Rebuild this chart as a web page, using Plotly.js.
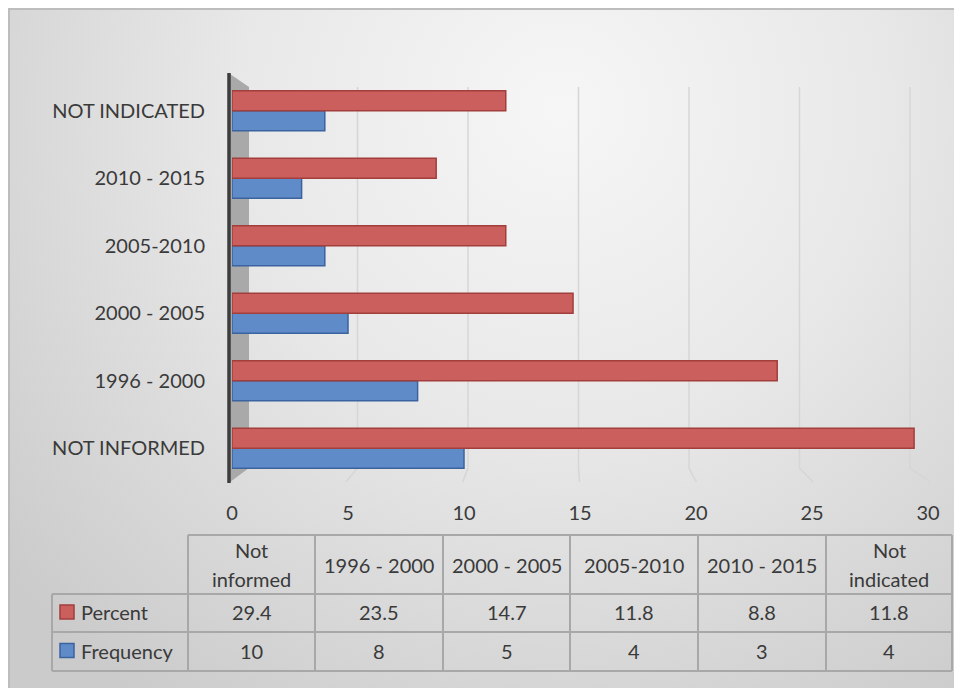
<!DOCTYPE html>
<html>
<head>
<meta charset="utf-8">
<script src="https://cdn.plot.ly/plotly-3.0.1.min.js"></script>
<style>html,body{margin:0;padding:0;background:#fff;}#chart{width:954px;height:688px;}</style>
</head>
<body>
<div id="chart"></div>
<script>
// ---------- DATA ----------
const categories = ["NOT INFORMED", "1996 - 2000", "2000 - 2005", "2005-2010", "2010 - 2015", "NOT INDICATED"];
const tableHeaders = ["Not\ninformed", "1996 - 2000", "2000 - 2005", "2005-2010", "2010 - 2015", "Not\nindicated"];
const percent = [29.4, 23.5, 14.7, 11.8, 8.8, 11.8];
const frequency = [10, 8, 5, 4, 3, 4];
const seriesNames = ["Percent", "Frequency"];
const xTicks = [0, 5, 10, 15, 20, 25, 30];

// ---------- STYLE / GEOMETRY ----------
const W = 954, H = 688;
const M = {l: 232, r: 26, t: 77, b: 206};
const PW = W - M.l - M.r, PH = H - M.t - M.b;
const px = v => (v - M.l) / PW;          // pixel x -> paper
const py = v => (H - M.b - v) / PH;      // pixel y -> paper
const FONT = "Lato, 'Open Sans', sans-serif";
const TXT = "#3a3a3a";
const RED = "#cb5f5d", RED_LINE = "#a23e3b";
const BLUE = "#5f8cc8", BLUE_LINE = "#3b63a0";
const GRID = "#d6d6d6";
const TBL_LINE = "#a8a8a8";

// background gradient as image
const cv = document.createElement("canvas");
cv.width = W; cv.height = H;
const cx = cv.getContext("2d");
cx.fillStyle = "#ffffff"; cx.fillRect(0, 0, W, H);
const g = cx.createRadialGradient(560, 110, 0, 560, 110, 720);
g.addColorStop(0, "#f6f6f6");
g.addColorStop(0.45, "#e8e8e8");
g.addColorStop(1, "#cbcbcb");
cx.fillStyle = g; cx.fillRect(8, 8, W - 8, H - 8);
cx.strokeStyle = "#bdbdbd"; cx.lineWidth = 2;
cx.beginPath(); cx.moveTo(8, 9); cx.lineTo(W, 9); cx.moveTo(9, 8); cx.lineTo(9, H); cx.stroke();
const bgURL = cv.toDataURL("image/png");

const shapes = [];
const annotations = [];

// 3D back-wall gridlines
const backX = v => 247 + v * 22.1;
const frontX = v => 229 + v * 23.37;
xTicks.filter(v => v > 0).forEach(v => {
  shapes.push({type: "path", xref: "paper", yref: "paper", layer: "below",
    path: `M${px(backX(v))},${py(87)} L${px(backX(v))},${py(468)} L${px(frontX(v))},${py(482)}`,
    line: {color: GRID, width: 1.5}});
});
// left side wall
shapes.push({type: "path", xref: "paper", yref: "paper", layer: "below",
  path: `M${px(230)},${py(74)} L${px(249)},${py(87)} L${px(249)},${py(468)} L${px(230)},${py(482)} Z`,
  fillcolor: "#a9a9a9", line: {width: 0}});
shapes.push({type: "line", xref: "paper", yref: "paper", layer: "below",
  x0: px(229), x1: px(229), y0: py(73), y1: py(483), line: {color: "#3d3d3d", width: 3.5}});

// data table
const colEdges = [188, 315, 443, 570, 698, 826, 952];
const rowEdges = [535, 594, 632, 671];
const rowLabelLeft = 52;
const tl = (x0, y0, x1, y1) => shapes.push({type: "line", xref: "paper", yref: "paper",
  x0: px(x0), y0: py(y0), x1: px(x1), y1: py(y1), line: {color: TBL_LINE, width: 2}});
tl(colEdges[0], rowEdges[0], colEdges[6], rowEdges[0]);
for (let i = 1; i < rowEdges.length; i++) tl(rowLabelLeft, rowEdges[i], colEdges[6], rowEdges[i]);
colEdges.forEach(x => tl(x, rowEdges[0], x, rowEdges[3]));
tl(rowLabelLeft, rowEdges[1], rowLabelLeft, rowEdges[3]);

const ann = (x, y, text, xanchor) => annotations.push({xref: "paper", yref: "paper",
  x: px(x), y: py(y), text: text, showarrow: false, xanchor: xanchor || "center", yanchor: "middle",
  font: {family: FONT, size: 20, color: TXT}});

tableHeaders.forEach((h, i) => {
  const c = (colEdges[i] + colEdges[i + 1]) / 2;
  const mid = (rowEdges[0] + rowEdges[1]) / 2;
  const lines = h.split("\n");
  lines.forEach((ln, k) => ann(c, mid + (k - (lines.length - 1) / 2) * 29, ln));
});
const seriesVals = [percent, frequency];
const seriesFill = [RED, BLUE], seriesLine = [RED_LINE, BLUE_LINE];
seriesNames.forEach((name, r) => {
  const mid = (rowEdges[r + 1] + rowEdges[r + 2]) / 2 - 1;
  shapes.push({type: "rect", xref: "paper", yref: "paper",
    x0: px(60), x1: px(74), y0: py(mid - 7), y1: py(mid + 7),
    fillcolor: seriesFill[r], line: {color: seriesLine[r], width: 1.5}});
  ann(79, mid, name, "left");
  seriesVals[r].forEach((v, i) => ann((colEdges[i] + colEdges[i + 1]) / 2, mid, String(v)));
});

// ---------- TRACES ----------
const traces = [
  {type: "bar", orientation: "h", name: seriesNames[1], y: categories, x: frequency,
   marker: {color: BLUE, line: {color: BLUE_LINE, width: 1.5}}, hoverinfo: "skip"},
  {type: "bar", orientation: "h", name: seriesNames[0], y: categories, x: percent,
   marker: {color: RED, line: {color: RED_LINE, width: 1.5}}, hoverinfo: "skip"}
];

const layout = {
  width: W, height: H,
  margin: M,
  paper_bgcolor: "#ffffff",
  plot_bgcolor: "rgba(0,0,0,0)",
  showlegend: false,
  barmode: "group",
  bargap: 0.41,
  bargroupgap: 0,
  font: {family: FONT, size: 20, color: TXT},
  xaxis: {range: [0, 30], tickvals: xTicks, ticktext: xTicks.map(String),
    showgrid: false, zeroline: false, showline: false,
    ticks: "outside", ticklen: 13, tickcolor: "rgba(0,0,0,0)",
    tickfont: {family: FONT, size: 20, color: TXT}, fixedrange: true},
  yaxis: {type: "category", categoryorder: "array", categoryarray: categories,
    showgrid: false, zeroline: false, showline: false,
    ticks: "outside", ticklen: 22, tickcolor: "rgba(0,0,0,0)",
    tickfont: {family: FONT, size: 20, color: TXT}, fixedrange: true},
  images: [{source: bgURL, xref: "paper", yref: "paper", x: px(0), y: py(0),
    sizex: W / PW, sizey: H / PH, xanchor: "left", yanchor: "top", sizing: "stretch", layer: "below"}],
  shapes: shapes,
  annotations: annotations
};

Plotly.newPlot("chart", traces, layout, {staticPlot: true, displayModeBar: false});
</script>
</body>
</html>
